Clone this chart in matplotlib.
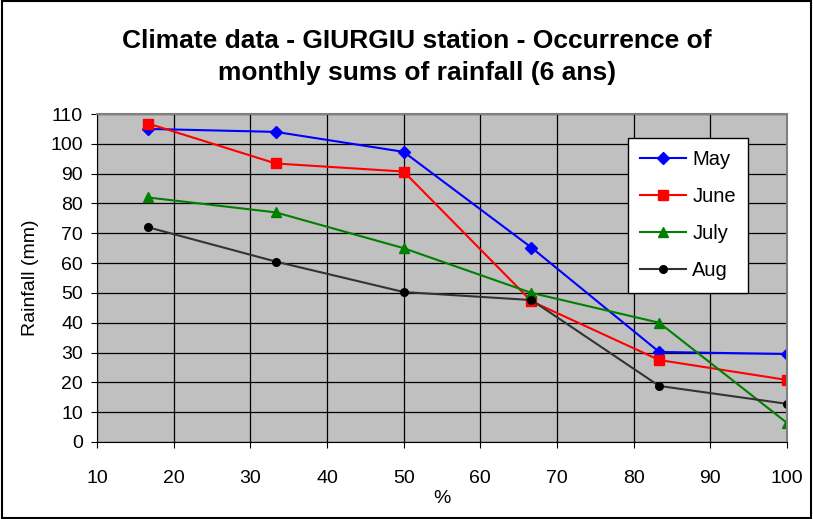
import matplotlib
matplotlib.use("Agg")
import matplotlib.pyplot as plt
from matplotlib.patches import Rectangle

plt.rcParams['font.family'] = ['Liberation Sans', 'DejaVu Sans']

x = [16.67, 33.33, 50.0, 66.67, 83.33, 100.0]
may = [105, 104, 97.3, 65.2, 30.2, 29.5]
june = [106.8, 93.4, 90.7, 47.2, 27.5, 20.8]
july = [82, 77, 65, 50, 40, 6.4]
aug = [72, 60.5, 50.3, 47.6, 18.8, 12.8]
series = [("May", may, "#0000FF", "D", 6.5), ("June", june, "#FF0000", "s", 6.5),
          ("July", july, "#008000", "^", 7.5), ("Aug", aug, "#333333", "o", 5.5)]
xticks = list(range(10, 101, 10))
yticks = list(range(0, 111, 10))

fig = plt.figure(figsize=(8.13, 5.19), dpi=100)
ax = fig.add_axes([97/813, 1-442/519, (787-97)/813, (442-114)/519])
ax.set_facecolor("#C0C0C0")
for name, vals, col, mk, ms in series:
    mfc = "black" if name == "Aug" else col
    ax.plot(x, vals, color=col, marker=mk, markersize=ms, markerfacecolor=mfc,
            markeredgecolor=mfc, linewidth=1.5, label=name)
ax.set_xlim(10, 100)
ax.set_ylim(0, 110)
ax.set_xticks(xticks)
ax.set_yticks(yticks)
ax.grid(True, color="black", linewidth=0.9)
ax.set_axisbelow(True)
ax.tick_params(labelsize=14, length=4, direction="out", colors="black")
ax.tick_params(axis="x", pad=16)
ax.tick_params(axis="y", pad=6)
for s in ["top", "right"]:
    ax.spines[s].set_color("#808080")
    ax.spines[s].set_linewidth(1.5)
for s in ["left", "bottom"]:
    ax.spines[s].set_color("black")
ax.set_xlabel("%", fontsize=14, labelpad=2)
ax.set_ylabel("Rainfall (mm)", fontsize=14, labelpad=8)
fig.suptitle("Climate data - GIURGIU station - Occurrence of\nmonthly sums of rainfall (6 ans)",
             x=417/813, fontsize=19, fontweight="bold", y=0.945, linespacing=1.45)
leg = ax.legend(loc="upper left", bbox_to_anchor=((628-97)/690, 1-(138-114)/328),
                fontsize=14.5, frameon=True, fancybox=False, edgecolor="black",
                framealpha=1, handlelength=2.3, labelspacing=0.9, borderpad=0.6,
                handletextpad=0.3, borderaxespad=0)
leg.get_frame().set_linewidth(1.0)
fig.patches.append(Rectangle((0.002, 0.002), 0.996, 0.996, transform=fig.transFigure,
                             fill=False, edgecolor="black", linewidth=1.5))
fig.savefig("out.png", dpi=100, facecolor="white")
